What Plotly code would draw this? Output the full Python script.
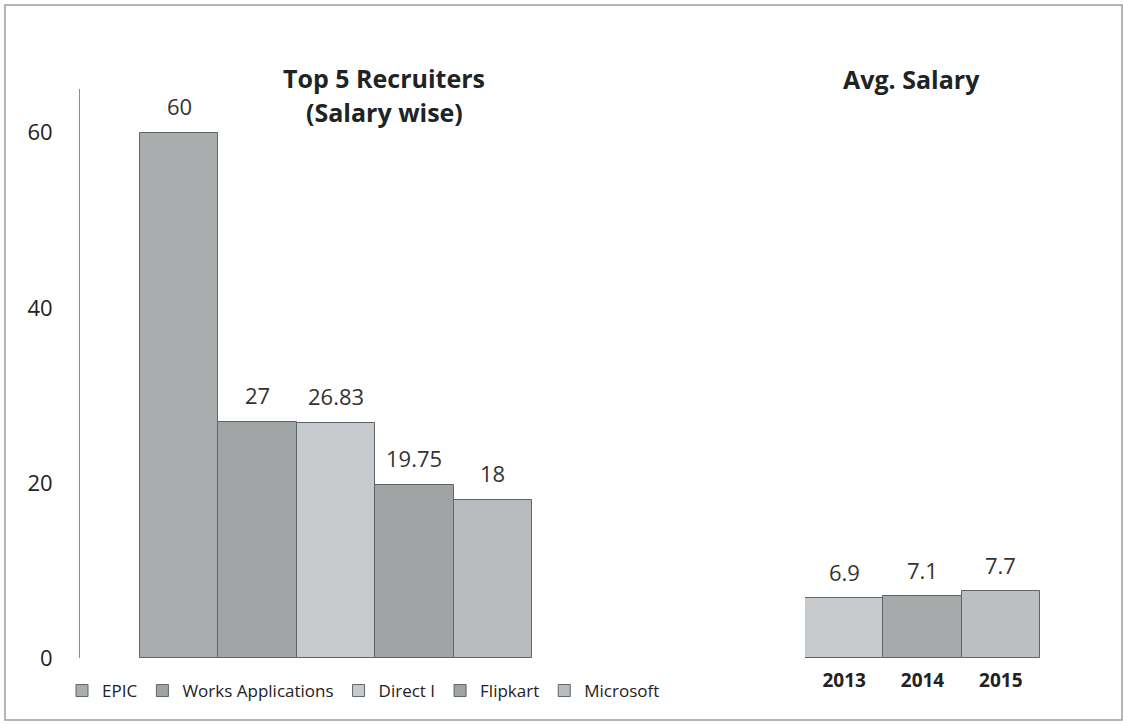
import plotly.graph_objects as go

companies = ["EPIC", "Works Applications", "Direct I", "Flipkart", "Microsoft"]
salaries = [60, 27, 26.83, 19.75, 18]
salary_labels = ["60", "27", "26.83", "19.75", "18"]
company_colors = ["#a9adae", "#a1a5a5", "#c7cacc", "#9fa3a3", "#b9bcbe"]

years = ["2013", "2014", "2015"]
avg_salary = [6.9, 7.1, 7.7]
avg_labels = ["6.9", "7.1", "7.7"]
year_colors = ["#c8cbcd", "#a6aaab", "#bcbfc1"]

FONT = "Open Sans"
BORDER = "#5f6465"
W, H = 1123, 725
ML, MR, MT, MB = 80, 0, 89, 67
PW = W - ML - MR
PH = H - MT - MB

def px_x(p):
    return (p - ML) / PW

def px_y(p):
    return (H - MB - p) / PH

fig = go.Figure()

for c, v, col in zip(companies, salaries, company_colors):
    fig.add_trace(go.Bar(
        x=[c], y=[v], name=c, xaxis="x", yaxis="y",
        marker=dict(color=col, line=dict(color=BORDER, width=1)),
        width=1,
    ))

fig.add_trace(go.Bar(
    x=years, y=avg_salary, xaxis="x2", yaxis="y2", showlegend=False,
    marker=dict(color=year_colors, line=dict(color=BORDER, width=1)),
    width=1,
))

annotations = []
for i, (v, t) in enumerate(zip(salaries, salary_labels)):
    annotations.append(dict(x=i, y=v, xref="x", yref="y", text=t, showarrow=False,
                            yanchor="middle", yshift=27,
                            font=dict(family=FONT, size=22, color="#333333")))
for i, (v, t) in enumerate(zip(avg_salary, avg_labels)):
    annotations.append(dict(x=i, y=v, xref="x2", yref="y2", text=t, showarrow=False,
                            yanchor="middle", yshift=26,
                            font=dict(family=FONT, size=22, color="#333333")))

annotations.append(dict(x=px_x(384), y=px_y(78), xref="paper", yref="paper",
                        text="<b>Top 5 Recruiters</b>", showarrow=False,
                        xanchor="center", yanchor="middle",
                        font=dict(family=FONT, size=25, color="#1e2424")))
annotations.append(dict(x=px_x(384), y=px_y(112), xref="paper", yref="paper",
                        text="<b>(Salary wise)</b>", showarrow=False,
                        xanchor="center", yanchor="middle",
                        font=dict(family=FONT, size=25, color="#1e2424")))
annotations.append(dict(x=px_x(911), y=px_y(79), xref="paper", yref="paper",
                        text="<b>Avg. Salary</b>", showarrow=False,
                        xanchor="center", yanchor="middle",
                        font=dict(family=FONT, size=25, color="#1e2424")))

unit_left = (532 - 140) / 5.0
xl0 = -0.5 - (140 - 80) / unit_left
xl1 = 4.5 + (560 - 532) / unit_left

fig.update_layout(
    width=W, height=H,
    margin=dict(l=ML, r=MR, t=MT, b=MB),
    paper_bgcolor="white", plot_bgcolor="white",
    barmode="overlay", bargap=0,
    font=dict(family=FONT, color="#222222"),
    xaxis=dict(type="category", domain=[px_x(80), px_x(560)], range=[xl0, xl1],
               showticklabels=False, showgrid=False, zeroline=False, showline=False,
               ticks=""),
    yaxis=dict(range=[0, 65], tickvals=[0, 20, 40, 60], showgrid=False, zeroline=False,
               showline=True, linecolor="#8a8e8f", linewidth=1, ticks="",
               ticklabelstandoff=22,
               tickfont=dict(family=FONT, size=22, color="#222222")),
    xaxis2=dict(type="category", domain=[px_x(805), px_x(1040)], range=[-0.5, 2.5],
                anchor="y2", showgrid=False, zeroline=False, showline=False, ticks="",
                ticklabelstandoff=9,
                tickfont=dict(family=FONT, size=19, color="#222222", weight="bold")),
    yaxis2=dict(range=[0, 65], anchor="x2", domain=[0, 1], visible=False),
    legend=dict(orientation="h", x=px_x(62), y=px_y(691), xanchor="left", yanchor="middle",
                font=dict(family=FONT, size=17, color="#222222"),
                itemwidth=30, tracegroupgap=0, bgcolor="rgba(0,0,0,0)"),
    annotations=annotations,
    shapes=[dict(type="rect", xref="paper", yref="paper",
                 x0=px_x(5), x1=px_x(1122), y0=px_y(720), y1=px_y(5),
                 line=dict(color="#9a9e9f", width=1.5), layer="below")],
    showlegend=True,
)

fig.write_html("out.html", config={"displayModeBar": False},
               post_script="document.body.style.margin='0';document.body.style.padding='0';")
